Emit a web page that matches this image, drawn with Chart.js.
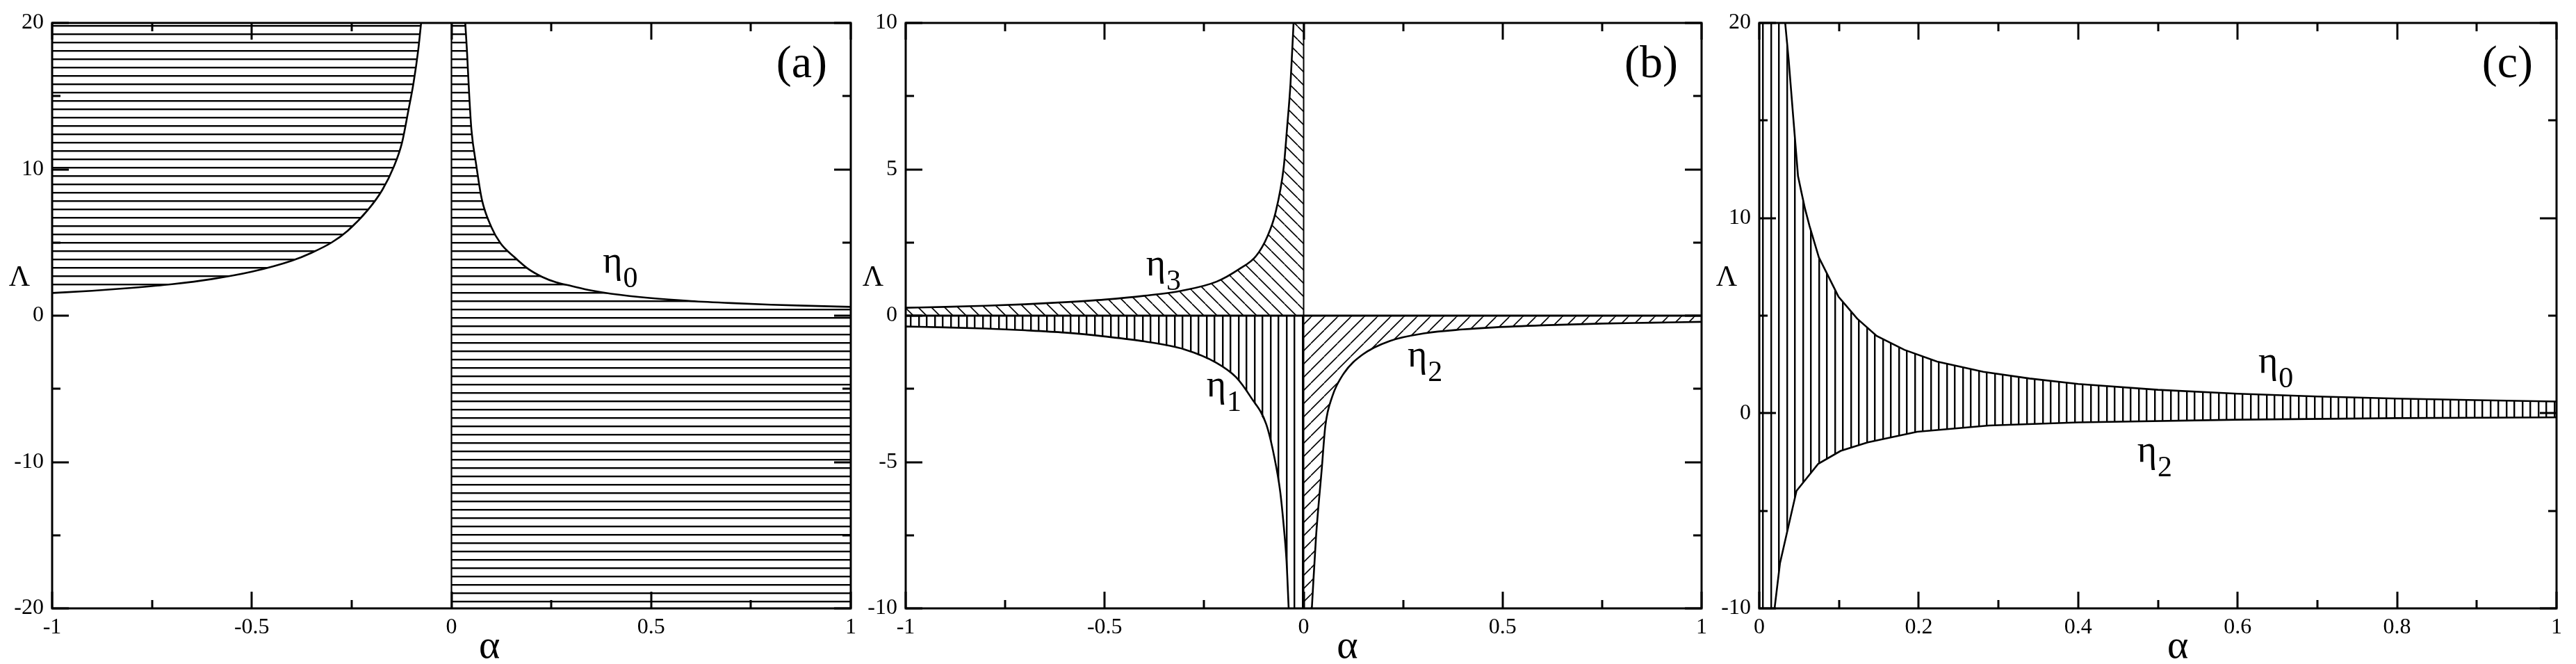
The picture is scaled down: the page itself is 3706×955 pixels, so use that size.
<!DOCTYPE html>
<html lang="en">
<head>
<meta charset="UTF-8">
<title>Lambda vs alpha</title>
<style>
  html, body { margin: 0; padding: 0; background: #fff; }
  body { width: 3706px; height: 955px; position: relative; overflow: hidden; }
  canvas { position: absolute; top: 0; }
</style>
</head>
<body>
<canvas id="chartA" width="1240" height="955" style="left:0px"></canvas>
<canvas id="chartB" width="1226" height="955" style="left:1240px"></canvas>
<canvas id="chartC" width="1240" height="955" style="left:2466px"></canvas>

<script src="https://cdn.jsdelivr.net/npm/chart.js"></script>
<script>
// ---- panel (a): eta_0, both branches
const aLeftAlpha = [-1, -0.9, -0.8, -0.7, -0.6, -0.5, -0.4, -0.35, -0.3, -0.26, -0.21, -0.173, -0.144, -0.124, -0.108, -0.095, -0.083, -0.076];
const aLeftLam   = [1.55, 1.7, 1.9, 2.15, 2.5, 3.0, 3.75, 4.3, 5.0, 5.8, 7.2, 8.6, 10.2, 11.8, 14.0, 15.9, 18.2, 20];
const aRightAlpha = [0.0345, 0.0386, 0.0444, 0.05, 0.062, 0.076, 0.1, 0.123, 0.158, 0.192, 0.227, 0.262, 0.3, 0.35, 0.4, 0.5, 0.6, 0.7, 0.8, 0.9, 1];
const aRightLam   = [20, 18.2, 15.1, 12.7, 10.3, 7.95, 6.05, 4.94, 3.99, 3.2, 2.65, 2.28, 2.03, 1.72, 1.5, 1.2, 1.0, 0.86, 0.75, 0.67, 0.6];

// ---- panel (b): eta_3 (above 0), eta_1 and eta_2 (below 0)
const bEta3Alpha = [-1, -0.9, -0.8, -0.7, -0.6, -0.5, -0.4, -0.307, -0.219, -0.161, -0.12, -0.091, -0.071, -0.05, -0.042, -0.033, -0.0253];
const bEta3Lam   = [0.27, 0.3, 0.34, 0.39, 0.46, 0.55, 0.68, 0.85, 1.16, 1.6, 2.03, 2.71, 3.5, 5.08, 6.35, 7.93, 10];
const bEta1Alpha = [-1, -0.9, -0.8, -0.7, -0.6, -0.5, -0.4, -0.3, -0.219, -0.17, -0.132, -0.094, -0.074, -0.059, -0.05, -0.043, -0.0376];
const bEta1Lam   = [-0.37, -0.40, -0.44, -0.50, -0.58, -0.71, -0.88, -1.15, -1.61, -2.1, -2.8, -3.71, -4.81, -6.0, -7.19, -8.38, -10];
const bEta2Alpha = [0.0206, 0.031, 0.0457, 0.0544, 0.072, 0.101, 0.148, 0.2175, 0.305, 0.4, 0.479, 0.6, 0.75, 0.875, 1];
const bEta2Lam   = [-10, -7.58, -5.21, -3.78, -2.76, -1.97, -1.33, -0.86, -0.6, -0.47, -0.40, -0.33, -0.27, -0.24, -0.21];

// ---- panel (c): band between eta_0 and eta_2
const cEta0Alpha = [0.0325, 0.0369, 0.0427, 0.0486, 0.0529, 0.0573, 0.063, 0.0747, 0.0936, 0.0994, 0.1227, 0.1473, 0.182, 0.2229, 0.281, 0.339, 0.4, 0.5, 0.6, 0.7, 0.8, 0.9, 1];
const cEta0Lam   = [20, 18.09, 15.12, 12.15, 11.32, 10.49, 9.6, 7.99, 6.45, 5.97, 4.85, 3.96, 3.25, 2.65, 2.12, 1.78, 1.5, 1.2, 1.0, 0.86, 0.75, 0.67, 0.6];
const cEta2Alpha = [0.0192, 0.026, 0.0467, 0.074, 0.102, 0.136, 0.198, 0.288, 0.4, 0.6, 0.8, 1];
const cEta2Lam   = [-10, -7.68, -3.98, -2.59, -1.93, -1.49, -0.95, -0.63, -0.47, -0.33, -0.25, -0.21];

// ---- axis ticks
const abXMajor = [-1, -0.5, 0, 0.5, 1];
const abXMinor = [-0.75, -0.25, 0.25, 0.75];
const aYMajor = [-20, -10, 0, 10, 20];
const aYMinor = [-15, -5, 5, 15];
const bYMajor = [-10, -5, 0, 5, 10];
const bYMinor = [-7.5, -2.5, 2.5, 7.5];
const cXMajor = [0, 0.2, 0.4, 0.6, 0.8, 1];
const cXMinor = [0.1, 0.3, 0.5, 0.7, 0.9];
const cYMajor = [-10, 0, 10, 20];
const cYMinor = [-5, 5, 15];

const SERIF = '"Liberation Serif", "DejaVu Serif", serif';

function pts(xs, ys) {
  return xs.map((x, i) => ({ x: x, y: ys[i] }));
}

// hatch patterns
function hatch(kind) {
  const c = document.createElement('canvas');
  const g = c.getContext('2d');
  if (kind === 'h') {
    c.width = 12; c.height = 12;
    g.fillStyle = '#000'; g.fillRect(0, 0, 12, 2);
    g.fillStyle = '#999'; g.fillRect(0, 2, 12, 1);
  } else if (kind === 'v') {
    c.width = 23; c.height = 4;
    g.fillStyle = '#000'; g.fillRect(0, 0, 2, 4); g.fillRect(12, 0, 2, 4);
    g.fillStyle = '#999'; g.fillRect(2, 0, 1, 4); g.fillRect(14, 0, 1, 4);
  } else {
    const s = 19;
    c.width = s; c.height = s;
    g.strokeStyle = '#000';
    g.lineWidth = 1.6;
    g.beginPath();
    for (let k = -1; k <= 2; k++) {
      if (kind === 'back') { g.moveTo(k * s, 0); g.lineTo(k * s + s, s); }
      else { g.moveTo(k * s, 0); g.lineTo(k * s - s, s); }
    }
    g.stroke();
  }
  return document.createElement('canvas').getContext('2d').createPattern(c, 'repeat');
}

// frame, inner ticks and text labels
function decor(cfg) {
  return {
    id: 'decor',
    afterDraw(chart) {
      const { ctx, chartArea: ca, scales } = chart;
      const x = scales.x, y = scales.y;
      ctx.save();
      ctx.strokeStyle = '#000';
      ctx.lineWidth = 3;
      ctx.strokeRect(ca.left, ca.top, ca.right - ca.left, ca.bottom - ca.top);

      const xt = (vals, len) => vals.forEach(v => {
        const p = Math.round(x.getPixelForValue(v));
        ctx.beginPath();
        ctx.moveTo(p, ca.bottom); ctx.lineTo(p, ca.bottom - len);
        ctx.moveTo(p, ca.top); ctx.lineTo(p, ca.top + len);
        ctx.stroke();
      });
      const yt = (vals, len) => vals.forEach(v => {
        const p = Math.round(y.getPixelForValue(v));
        ctx.beginPath();
        ctx.moveTo(ca.left, p); ctx.lineTo(ca.left + len, p);
        ctx.moveTo(ca.right, p); ctx.lineTo(ca.right - len, p);
        ctx.stroke();
      });
      xt(cfg.xMajor, 24); xt(cfg.xMinor, 12);
      yt(cfg.yMajor, 24); yt(cfg.yMinor, 12);

      ctx.fillStyle = '#000';
      // eta labels
      cfg.etas.forEach(e => {
        const px = x.getPixelForValue(e.a), py = y.getPixelForValue(e.l);
        ctx.textAlign = 'left';
        ctx.textBaseline = 'alphabetic';
        ctx.font = '54px ' + SERIF;
        ctx.fillText('\u03b7', px, py);
        const w = ctx.measureText('\u03b7').width;
        ctx.font = '42px ' + SERIF;
        ctx.fillText(e.sub, px + w + 1, py + 21);
      });
      // panel letter
      ctx.font = '66px ' + SERIF;
      ctx.textAlign = 'right';
      ctx.textBaseline = 'middle';
      ctx.fillText(cfg.letter, ca.right - 34, ca.top + 61);
      // axis names
      ctx.textAlign = 'center';
      ctx.font = '42px ' + SERIF;
      ctx.fillText('\u039b', ca.left - 47, ca.top + 0.436 * (ca.bottom - ca.top));
      ctx.font = '58px ' + SERIF;
      ctx.fillText('\u03b1', x.getPixelForValue(cfg.alphaAt), ca.bottom + 56);
      ctx.restore();
    }
  };
}

function curve(data, width) {
  return {
    data: data, borderColor: '#000', borderWidth: width, pointRadius: 0,
    fill: false, tension: 0, cubicInterpolationMode: 'monotone'
  };
}
function straight(data, width) {
  return { data: data, borderColor: '#000', borderWidth: width, pointRadius: 0, fill: false, tension: 0 };
}
function region(data, pattern) {
  return { data: data, borderWidth: 0, pointRadius: 0, backgroundColor: pattern, fill: 'shape', tension: 0 };
}

function makeChart(id, datasets, xr, yr, yWidth, padRight, cfg) {
  const ticksFont = { family: SERIF, size: 32 };
  return new Chart(document.getElementById(id), {
    type: 'line',
    data: { datasets: datasets },
    options: {
      responsive: false,
      animation: false,
      devicePixelRatio: 1,
      layout: { padding: { top: 33, right: padRight, left: 0, bottom: 0 } },
      plugins: { legend: { display: false }, tooltip: { enabled: false } },
      scales: {
        x: {
          type: 'linear', min: xr[0], max: xr[1],
          grid: { display: false, drawTicks: false }, border: { display: false },
          ticks: { stepSize: xr[2], color: '#000', font: ticksFont, padding: 8, maxRotation: 0,
                   autoSkip: false, callback: v => String(+v.toFixed(2)) },
          afterFit: s => { s.height = 80; }
        },
        y: {
          type: 'linear', min: yr[0], max: yr[1],
          grid: { display: false, drawTicks: false }, border: { display: false },
          ticks: { stepSize: yr[2], color: '#000', font: ticksFont, padding: 12,
                   callback: v => String(+v.toFixed(2)) },
          afterFit: s => { s.width = yWidth; }
        }
      }
    },
    plugins: [decor(cfg)]
  });
}

// (a)
const hPat = hatch('h');
const aLeft = pts(aLeftAlpha, aLeftLam);
const aRight = pts(aRightAlpha, aRightLam);
makeChart('chartA', [
  curve(aLeft, 2.6),
  curve(aRight, 2.6),
  straight([{ x: 0, y: -20 }, { x: 0, y: 20 }], 2.2),
  region(aLeft.concat([{ x: -1, y: 20 }]), hPat),
  region([{ x: 0, y: -20 }, { x: 0, y: 20 }].concat(aRight, [{ x: 1, y: -20 }]), hPat)
], [-1, 1, 0.5], [-20, 20, 10], 75, 16, {
  xMajor: abXMajor, xMinor: abXMinor, yMajor: aYMajor, yMinor: aYMinor,
  letter: '(a)', alphaAt: 0.095,
  etas: [{ sub: '0', a: 0.379, l: 2.95 }]
});

// (b)
const b3 = pts(bEta3Alpha, bEta3Lam);
const b1 = pts(bEta1Alpha, bEta1Lam);
const b2 = pts(bEta2Alpha, bEta2Lam);
makeChart('chartB', [
  curve(b3, 2.6),
  curve(b1, 2.6),
  curve(b2, 2.6),
  straight([{ x: -1, y: 0 }, { x: 1, y: 0 }], 3),
  straight([{ x: 0, y: -10 }, { x: 0, y: 10 }], 2),
  region([{ x: -1, y: 0 }].concat(b3, [{ x: 0, y: 10 }, { x: 0, y: 0 }]), hatch('back')),
  region([{ x: -1, y: 0 }].concat(b1, [{ x: 0, y: -10 }, { x: 0, y: 0 }]), hatch('v')),
  region([{ x: 0, y: 0 }, { x: 0, y: -10 }].concat(b2, [{ x: 1, y: 0 }]), hatch('fwd'))
], [-1, 1, 0.5], [-10, 10, 5], 63, 18, {
  xMajor: abXMajor, xMinor: abXMinor, yMajor: bYMajor, yMinor: bYMinor,
  letter: '(b)', alphaAt: 0.11,
  etas: [{ sub: '3', a: -0.396, l: 1.38 }, { sub: '1', a: -0.244, l: -2.76 }, { sub: '2', a: 0.261, l: -1.73 }]
});

// (c)
const c0 = pts(cEta0Alpha, cEta0Lam);
const c2 = pts(cEta2Alpha, cEta2Lam);
makeChart('chartC', [
  straight(c0, 2.6),
  straight(c2, 2.6),
  region([{ x: 0, y: -10 }, { x: 0, y: 20 }].concat(c0, c2.slice().reverse()), hatch('v'))
], [0, 1, 0.2], [-10, 20, 10], 65, 28, {
  xMajor: cXMajor, xMinor: cXMinor, yMajor: cYMajor, yMinor: cYMinor,
  letter: '(c)', alphaAt: 0.525,
  etas: [{ sub: '0', a: 0.626, l: 2.08 }, { sub: '2', a: 0.474, l: -2.48 }]
});
</script>
</body>
</html>
